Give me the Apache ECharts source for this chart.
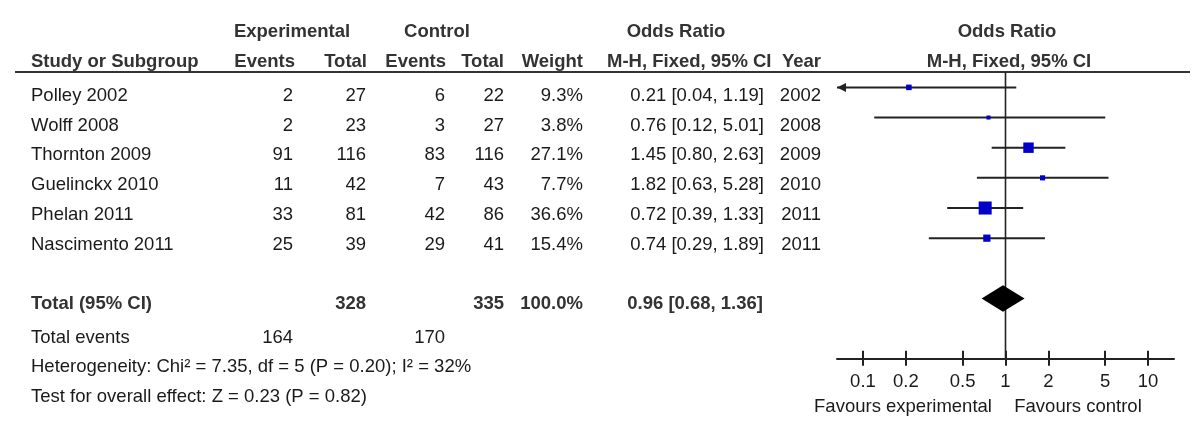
<!DOCTYPE html>
<html><head><meta charset="utf-8">
<script src="https://cdn.jsdelivr.net/npm/echarts@6/dist/echarts.min.js"></script>
<style>html,body{margin:0;padding:0;background:#fff}#c{width:1200px;height:435px}</style>
</head><body><div id="c"></div>
<script>
// ---- data ----
const studies = ['Polley 2002','Wolff 2008','Thornton 2009','Guelinckx 2010','Phelan 2011','Nascimento 2011'];
const expEvents = [2, 2, 91, 11, 33, 25];
const expTotal = [27, 23, 116, 42, 81, 39];
const ctrlEvents = [6, 3, 83, 7, 42, 29];
const ctrlTotal = [22, 27, 116, 43, 86, 41];
const weights = [9.3, 3.8, 27.1, 7.7, 36.6, 15.4];
const orValue = [0.21, 0.76, 1.45, 1.82, 0.72, 0.74];
const ciLow = [0.04, 0.12, 0.80, 0.63, 0.39, 0.29];
const ciHigh = [1.19, 5.01, 2.63, 5.28, 1.33, 1.89];
const years = [2002, 2008, 2009, 2010, 2011, 2011];
const totalExpTotal = 328, totalCtrlTotal = 335, totalWeight = 100.0;
const totalOr = 0.96, totalLow = 0.68, totalHigh = 1.36;
const totalExpEvents = 164, totalCtrlEvents = 170;
const heterogeneityText = 'Heterogeneity: Chi\u00b2 = 7.35, df = 5 (P = 0.20); I\u00b2 = 32%';
const overallText = 'Test for overall effect: Z = 0.23 (P = 0.82)';
const tickLabels = [0.1, 0.2, 0.5, 1, 2, 5, 10];

// ---- layout ----
const FONT = '"Liberation Sans", Arial, sans-serif';
const FS = 18.5;
const reg = FS + 'px ' + FONT, bold = 'bold ' + FS + 'px ' + FONT;
const TXT = '#1a1a1a', HDR = '#333';
const rowY0 = 94, rowH = 29.95;
const DY = 1.5;
const colX = {name: 31, ee: 293, et: 366, ce: 445, ct: 504, w: 583, or: 764, yr: 821};
const xMin = -1.182, xMax = 1.182;
const lg = Math.log10;
const fmt2 = v => v.toFixed(2);

function t(text, x, y, align, font, fill) {
  return {type: 'text', x: x, y: y + DY, silent: true,
    style: {text: String(text), align: align, verticalAlign: 'middle', font: font, fill: fill || TXT}};
}
const g = [];
// headers
g.push(t('Experimental', 292, 30, 'center', bold, HDR));
g.push(t('Control', 437, 30, 'center', bold, HDR));
g.push(t('Odds Ratio', 676, 30, 'center', bold, HDR));
g.push(t('Odds Ratio', 1007, 30, 'center', bold, HDR));
g.push(t('Study or Subgroup', colX.name, 60, 'left', bold, HDR));
g.push(t('Events', 295, 60, 'right', bold, HDR));
g.push(t('Total', 367, 60, 'right', bold, HDR));
g.push(t('Events', 446, 60, 'right', bold, HDR));
g.push(t('Total', 504, 60, 'right', bold, HDR));
g.push(t('Weight', 583, 60, 'right', bold, HDR));
g.push(t('M-H, Fixed, 95% CI', 607, 60, 'left', bold, HDR));
g.push(t('Year', 821, 60, 'right', bold, HDR));
g.push(t('M-H, Fixed, 95% CI', 1009, 60, 'center', bold, HDR));
g.push({type: 'line', silent: true, shape: {x1: 15, y1: 72, x2: 1190, y2: 72}, style: {stroke: '#333', lineWidth: 2}});
// study rows
studies.forEach((s, i) => {
  const y = rowY0 + i * rowH;
  g.push(t(s, colX.name, y, 'left', reg));
  g.push(t(expEvents[i], colX.ee, y, 'right', reg));
  g.push(t(expTotal[i], colX.et, y, 'right', reg));
  g.push(t(ctrlEvents[i], colX.ce, y, 'right', reg));
  g.push(t(ctrlTotal[i], colX.ct, y, 'right', reg));
  g.push(t(weights[i].toFixed(1) + '%', colX.w, y, 'right', reg));
  g.push(t(fmt2(orValue[i]) + ' [' + fmt2(ciLow[i]) + ', ' + fmt2(ciHigh[i]) + ']', colX.or, y, 'right', reg));
  g.push(t(years[i], colX.yr, y, 'right', reg));
});
// totals
const yT = 302;
g.push(t('Total (95% CI)', colX.name, yT, 'left', bold, HDR));
g.push(t(totalExpTotal, colX.et, yT, 'right', bold, HDR));
g.push(t(totalCtrlTotal, colX.ct, yT, 'right', bold, HDR));
g.push(t(totalWeight.toFixed(1) + '%', colX.w, yT, 'right', bold, HDR));
g.push(t(fmt2(totalOr) + ' [' + fmt2(totalLow) + ', ' + fmt2(totalHigh) + ']', 763, yT, 'right', bold, HDR));
g.push(t('Total events', colX.name, 336, 'left', reg));
g.push(t(totalExpEvents, colX.ee, 336, 'right', reg));
g.push(t(totalCtrlEvents, colX.ce, 336, 'right', reg));
g.push(t(heterogeneityText, colX.name, 365, 'left', reg));
g.push(t(overallText, colX.name, 395, 'left', reg));
g.push(t('Favours experimental', 903, 405, 'center', reg));
g.push(t('Favours control', 1078, 405, 'center', reg));

const tickVals = tickLabels.map(v => lg(v));
const studyData = studies.map((s, i) => [lg(orValue[i]), lg(ciLow[i]), lg(ciHigh[i]), i, weights[i]]);
const totalRow = 7;

const chart = echarts.init(document.getElementById('c'), null, {renderer: 'canvas'});
chart.setOption({
  animation: false,
  backgroundColor: '#fff',
  grid: {left: 837, width: 337, top: 72.3, height: 286.5, containLabel: false},
  xAxis: [{
    type: 'value', min: xMin, max: xMax, position: 'bottom',
    axisLine: {show: true, onZero: false, lineStyle: {color: '#222', width: 2}},
    axisTick: {show: true, customValues: tickVals, length: 7, lineStyle: {color: '#222', width: 2}},
    axisLabel: {show: true, customValues: tickVals, margin: 14, fontSize: FS, fontFamily: FONT, color: TXT,
      formatter: v => { let k = 0, best = 1e9; tickVals.forEach((tv, j) => { if (Math.abs(tv - v) < best) { best = Math.abs(tv - v); k = j; } }); return String(tickLabels[k]); }},
    splitLine: {show: false}
  }, {
    type: 'value', min: xMin, max: xMax, position: 'bottom', gridIndex: 0,
    axisLine: {show: false, onZero: false},
    axisTick: {show: true, inside: true, customValues: tickVals, length: 8, lineStyle: {color: '#222', width: 2}},
    axisLabel: {show: false}, splitLine: {show: false}
  }],
  yAxis: {type: 'value', min: -0.5, max: 9, inverse: true, show: false},
  graphic: g,
  series: [{
    type: 'line', silent: true, symbol: 'none', data: [[0, -0.5], [0, 9]],
    lineStyle: {color: '#222', width: 1.6}, z: 1
  }, {
    type: 'custom', silent: true, data: studyData, z: 3,
    renderItem: function (params, api) {
      const orv = api.value(0), lo = api.value(1), hi = api.value(2), row = api.value(3), w = api.value(4);
      const loC = Math.max(lo, xMin), hiC = Math.min(hi, xMax);
      const p1 = api.coord([loC, row]), p2 = api.coord([hiC, row]), pc = api.coord([orv, row]);
      const ch = [{type: 'line', shape: {x1: p1[0], y1: p1[1], x2: p2[0], y2: p2[1]}, style: {stroke: '#222', lineWidth: 2}}];
      if (lo < xMin) ch.push({type: 'polygon', shape: {points: [[p1[0], p1[1]], [p1[0] + 9, p1[1] - 4.5], [p1[0] + 9, p1[1] + 4.5]]}, style: {fill: '#222'}});
      if (hi > xMax) ch.push({type: 'polygon', shape: {points: [[p2[0], p2[1]], [p2[0] - 9, p2[1] - 4.5], [p2[0] - 9, p2[1] + 4.5]]}, style: {fill: '#222'}});
      const side = 3 + 0.274 * w;
      ch.push({type: 'rect', shape: {x: pc[0] - side / 2, y: pc[1] - side / 2, width: side, height: side}, style: {fill: '#0000c8'}});
      return {type: 'group', children: ch};
    }
  }, {
    type: 'custom', silent: true, data: [[lg(totalOr), lg(totalLow), lg(totalHigh), totalRow]], z: 3,
    renderItem: function (params, api) {
      const c = api.coord([api.value(0), api.value(3)]), l = api.coord([api.value(1), api.value(3)]), r = api.coord([api.value(2), api.value(3)]);
      const h = 13.3;
      return {type: 'polygon', shape: {points: [[l[0], c[1]], [c[0], c[1] - h], [r[0], c[1]], [c[0], c[1] + h]]}, style: {fill: '#000'}};
    }
  }]
});
</script></body></html>
